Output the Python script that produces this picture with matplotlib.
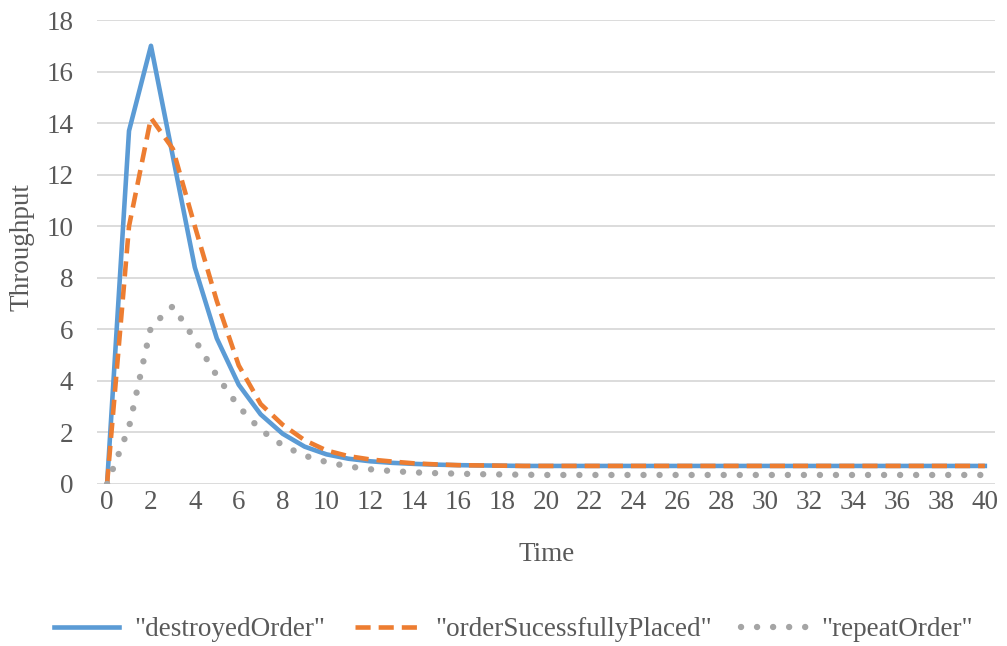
import matplotlib.pyplot as plt

plt.rcParams["font.family"] = ["Liberation Serif", "DejaVu Serif"]

time = list(range(0, 41))

destroyed_order = [0, 13.7, 17.0, 12.7, 8.4, 5.65, 3.85, 2.7, 1.95, 1.45,
                   1.15, 0.98, 0.88, 0.82, 0.78, 0.75, 0.73, 0.72, 0.71, 0.7] + [0.7] * 21
order_placed = [0, 10.0, 14.2, 13.0, 10.0, 7.1, 4.6, 3.1, 2.3, 1.7,
                1.3, 1.08, 0.95, 0.87, 0.8, 0.76, 0.73, 0.72, 0.71, 0.7] + [0.7] * 21
repeat_order = [0, 2.2, 6.1, 6.9, 5.6, 4.2, 3.0, 2.1, 1.5, 1.1,
                0.85, 0.68, 0.57, 0.5, 0.45, 0.42, 0.4, 0.38, 0.37, 0.36] + [0.35] * 21

labels = ['"destroyedOrder"', '"orderSucessfullyPlaced"', '"repeatOrder"']
colors = ["#5b9bd5", "#ed7d31", "#a5a5a5"]
text_color = "#595959"
fs = 19.5

fig = plt.figure(figsize=(10.07, 6.46), dpi=100)
ax = fig.add_axes([0.0963, 0.2508, 0.8917, 0.7182])

ax.plot(time, destroyed_order, color=colors[0], lw=3.3, label=labels[0],
        solid_joinstyle="round")
ax.plot(time, order_placed, color=colors[1], lw=3.3, label=labels[1],
        linestyle=(0, (3.3, 1.75)), dash_capstyle="butt")
ax.plot(time, repeat_order, color=colors[2], lw=4.6, label=labels[2],
        linestyle=(0, (0.01, 2.5)), dash_capstyle="round")

ax.set_xlim(-0.46, 40.46)
ax.set_ylim(0, 18)
ax.set_xticks(range(0, 41, 2))
ax.set_yticks(range(0, 19, 2))
ax.grid(axis="y", color="#d9d9d9", lw=1.3)
ax.set_axisbelow(True)
for s in ax.spines.values():
    s.set_visible(False)
ax.tick_params(length=0, labelsize=fs, labelcolor=text_color)
ax.tick_params(axis="x", pad=4)
ax.tick_params(axis="y", pad=17)

fig.text(0.543, 0.141, "Time", fontsize=fs, color=text_color,
         ha="center", va="center")
fig.text(0.0218, 0.617, "Throughput", fontsize=fs, color=text_color,
         ha="center", va="center", rotation=90)

fig.legend(loc="center", bbox_to_anchor=(0.51, 0.025), ncol=3, frameon=False,
           fontsize=fs, labelcolor=text_color, handlelength=2.4, columnspacing=1.1,
           handletextpad=0.55)

fig.savefig("out.png", dpi=100)
